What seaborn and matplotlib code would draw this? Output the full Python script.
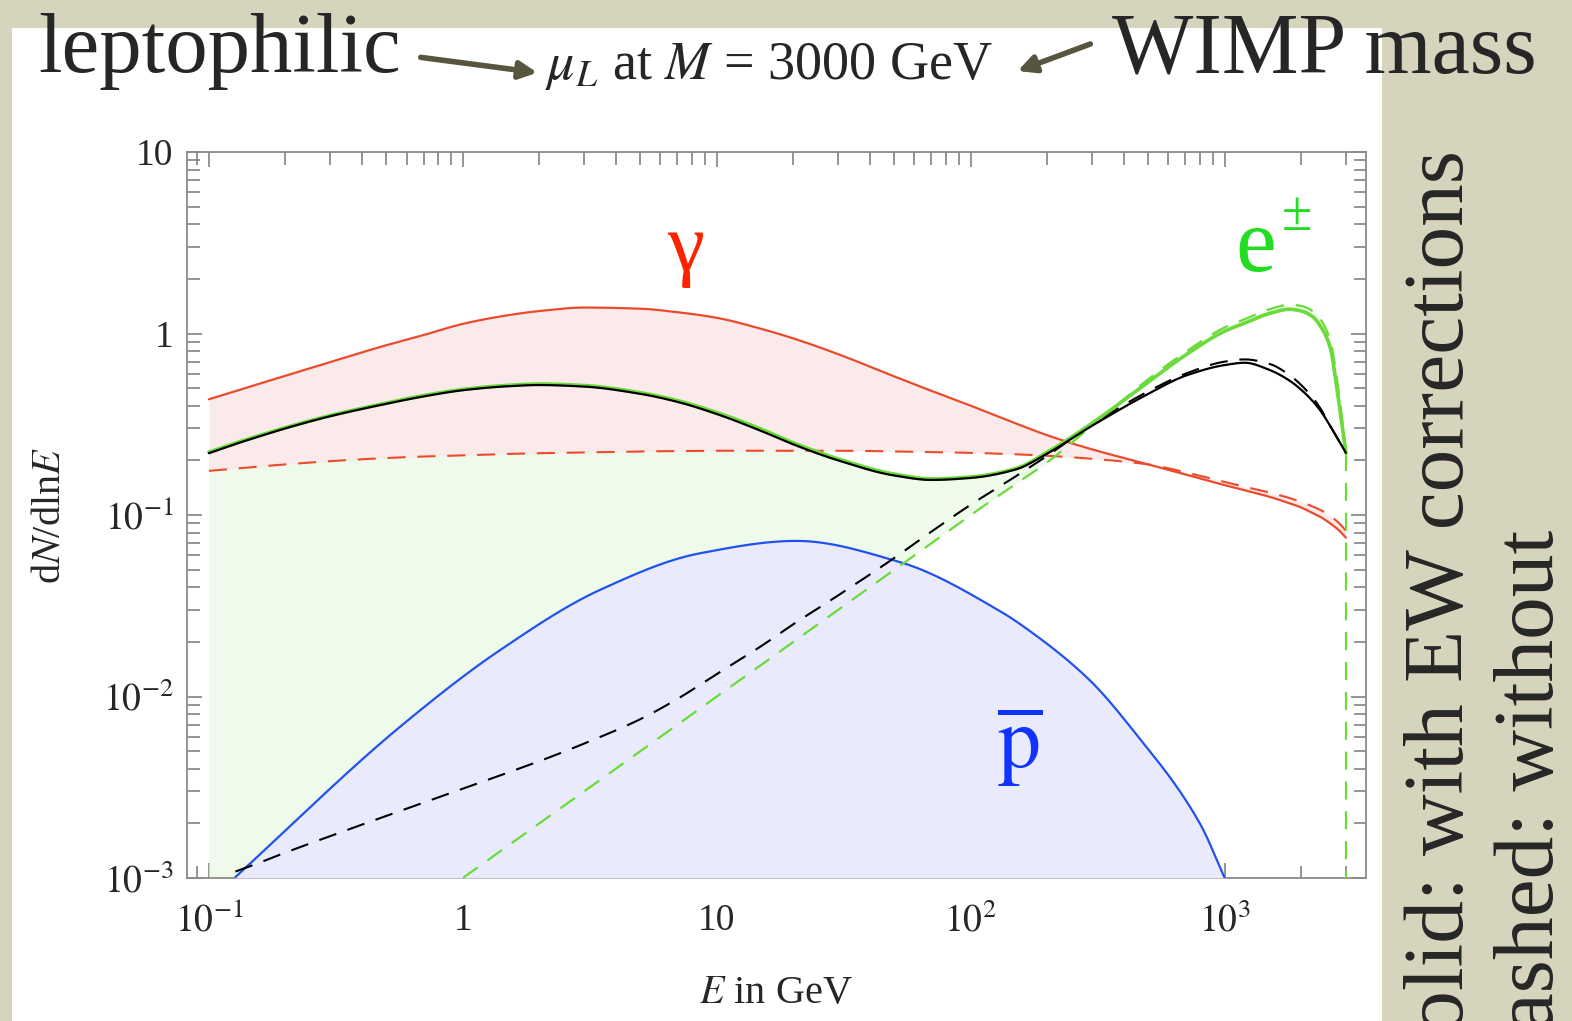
import numpy as np
import pandas as pd
import matplotlib
matplotlib.use("Agg")
import matplotlib.pyplot as plt
from matplotlib.patches import Rectangle, FancyArrowPatch
from matplotlib.ticker import LogLocator, NullFormatter, FixedLocator, FixedFormatter
import seaborn as sns

# Energy grid (GeV) for photon, neutrino and e+- spectra
energy = [0.1, 0.126, 0.15, 0.2, 0.3, 0.5, 0.7, 1, 1.5, 2, 3, 5, 7, 10, 15, 20, 30, 50, 70,
          100, 150, 200, 300, 500, 700, 1000, 1200, 1500, 1800, 2000, 2200, 2400, 2600, 2800, 3000]

nan = np.nan
# photons, with and without electroweak corrections
gamma_ew = [0.434, 0.479, 0.517, 0.585, 0.696, 0.862, 0.98, 1.13, 1.26, 1.33, 1.39, 1.37, 1.31, 1.22, 1.06, 0.94,
            0.77, 0.58, 0.483, 0.40, 0.32, 0.275, 0.23, 0.19, 0.167, 0.146, 0.137, 0.126, 0.116, 0.11, 0.103,
            0.097, 0.09, 0.083, 0.075]
gamma_noew = [0.175, 0.18, 0.184, 0.19, 0.198, 0.206, 0.21, 0.213, 0.217, 0.219, 0.221, 0.224, 0.225, 0.226,
              0.226, 0.226, 0.226, 0.224, 0.222, 0.22, 0.216, 0.212, 0.204, 0.19, 0.172, 0.152, 0.143, 0.133,
              0.124, 0.118, 0.112, 0.106, 0.099, 0.091, 0.082]
# neutrinos (black), with and without corrections
nu_ew = [0.219, 0.245, 0.265, 0.30, 0.35, 0.41, 0.45, 0.487, 0.512, 0.52, 0.51, 0.465, 0.42, 0.36, 0.29, 0.245,
         0.20, 0.165, 0.156, 0.16, 0.178, 0.218, 0.31, 0.465, 0.585, 0.67, 0.69, 0.63, 0.55, 0.49, 0.43, 0.37,
         0.31, 0.26, 0.22]
nu_noew = [nan, 0.00108, 0.00118, 0.00138, 0.0017, 0.0022, 0.0026, 0.0031, 0.0038, 0.0044, 0.0055, 0.0075,
           0.0097, 0.0133, 0.019, 0.025, 0.036, 0.058, 0.081, 0.114, 0.163, 0.212, 0.315, 0.48, 0.60, 0.70, 0.72,
           0.68, 0.59, 0.52, 0.45, 0.38, 0.31, 0.26, 0.22]
# electrons + positrons, with and without corrections
el_ew = [0.222, 0.248, 0.268, 0.303, 0.353, 0.414, 0.455, 0.492, 0.518, 0.527, 0.517, 0.472, 0.427, 0.367, 0.297,
         0.25, 0.204, 0.168, 0.158, 0.162, 0.18, 0.222, 0.32, 0.54, 0.76, 1.03, 1.14, 1.29, 1.36, 1.33, 1.25,
         1.08, 0.84, 0.44, 0.22]
el_noew = [nan, nan, nan, nan, nan, nan, nan, 0.001, 0.0015, 0.002, 0.003, 0.005, 0.007, 0.010, 0.015, 0.020,
           0.030, 0.050, 0.070, 0.10, 0.148, 0.195, 0.31, 0.56, 0.79, 1.08, 1.2, 1.36, 1.44, 1.42, 1.34, 1.18,
           0.92, 0.50, 0.22]
# cut-off of the e+- spectrum at E = M
el_noew_edge_E = [3000, 3000]
el_noew_edge_v = [0.22, 1e-4]
# antiprotons
pbar_E = [0.126, 0.565, 1.4, 3.46, 8.57, 20.6, 52.6, 130, 175, 294, 435, 798, 1000]
pbar_ew = [0.001, 0.0068, 0.018, 0.0386, 0.0615, 0.072, 0.055, 0.0296, 0.0224, 0.0123, 0.00653, 0.002, 0.001]

x_ticks = [0.1, 1, 10, 100, 1000]
x_ticklabels = [r"$10^{-1}$", "1", "10", r"$10^{2}$", r"$10^{3}$"]
y_ticks = [1e-3, 1e-2, 1e-1, 1, 10]
y_ticklabels = [r"$10^{-3}$", r"$10^{-2}$", r"$10^{-1}$", "1", "10"]

series = {"gamma_ew": (energy, gamma_ew), "gamma_noew": (energy, gamma_noew),
          "nu_ew": (energy, nu_ew), "nu_noew": (energy, nu_noew),
          "el_ew": (energy, el_ew), "el_noew": (energy, el_noew),
          "pbar": (pbar_E, pbar_ew)}


def pchip_loglog(x, y, xs):
    """Shape-preserving cubic through (x, y) in log-log space, evaluated at xs."""
    u, w, us = np.log10(x), np.log10(y), np.log10(xs)
    h = np.diff(u)
    d = np.diff(w) / h
    m = np.zeros_like(u)
    m[0], m[-1] = d[0], d[-1]
    for k in range(1, len(u) - 1):
        if d[k - 1] * d[k] > 0:
            w1, w2 = 2 * h[k] + h[k - 1], h[k] + 2 * h[k - 1]
            m[k] = (w1 + w2) / (w1 / d[k - 1] + w2 / d[k])
    idx = np.clip(np.searchsorted(u, us) - 1, 0, len(u) - 2)
    t = (us - u[idx]) / h[idx]
    h00, h10 = 2 * t**3 - 3 * t**2 + 1, t**3 - 2 * t**2 + t
    h01, h11 = -2 * t**3 + 3 * t**2, t**3 - t**2
    ws = h00 * w[idx] + h10 * h[idx] * m[idx] + h01 * w[idx + 1] + h11 * h[idx] * m[idx + 1]
    return 10 ** ws


# dense drawing grid; every curve passes through its tabulated values
E_draw = np.geomspace(energy[0], energy[-1], 900)
smooth = {"E": E_draw}
for name, (ex, vals) in series.items():
    sub = pd.DataFrame({"E": ex, "v": vals}).dropna()
    out = np.full(E_draw.shape, np.nan)
    inside = (E_draw >= sub["E"].iloc[0]) & (E_draw <= sub["E"].iloc[-1])
    out[inside] = pchip_loglog(sub["E"].values, sub["v"].values, E_draw[inside])
    smooth[name] = out
sm = pd.DataFrame(smooth)
edge = pd.DataFrame({"E": el_noew_edge_E, "el_noew": el_noew_edge_v})

sns.set_style("ticks")
plt.rcParams["font.family"] = ["Liberation Serif", "DejaVu Serif"]
plt.rcParams["mathtext.fontset"] = "stix"
plt.rcParams["lines.scale_dashes"] = False

BEIGE = "#D7D4BD"
RED = "#EC4A2C"
GREEN = "#6ADB3A"
BLUE = "#2152EE"
PINK_FILL = "#FBEAEA"
GREEN_FILL = "#EEFBEA"
BLUE_FILL = "#E9EAFB"
ARROW = "#57553F"
FRAME = "#8A8A8A"

W, H = 1572, 1021
fig = plt.figure(figsize=(W / 100, H / 100), dpi=100)
fig.patch.set_facecolor(BEIGE)


def fx(x):
    return x / W


def fy(y):
    return 1 - y / H


# white slide panel
fig.add_artist(Rectangle((fx(12), 0), fx(1382) - fx(12), fy(28), transform=fig.transFigure,
                         facecolor="white", edgecolor="none", zorder=-5))

ax = fig.add_axes([fx(187), fy(878), fx(1366) - fx(187), fy(152) - fy(878)])
ax.set_xscale("log")
ax.set_yscale("log")
ax.set_xlim(0.082, 3600)
ax.set_ylim(1e-3, 10)
ybot = ax.get_ylim()[0]

el_lo = np.where(np.isnan(sm["el_noew"]), ybot, sm["el_noew"])
pb = np.where(np.isnan(sm["pbar"]), ybot, sm["pbar"])
ax.fill_between(sm["E"], sm["el_ew"], el_lo, color=GREEN_FILL, lw=0, zorder=1)
ax.fill_between(sm["E"], sm["gamma_ew"], sm["gamma_noew"], color=PINK_FILL, lw=0, zorder=2)
ax.fill_between(sm["E"], pb, ybot, color=BLUE_FILL, lw=0, zorder=3)

dash = (0, (13, 8.5))
common = dict(ax=ax, estimator=None, sort=False, legend=False)
sns.lineplot(data=sm, x="E", y="gamma_noew", color=RED, lw=1.5, linestyle=dash, zorder=5, **common)
sns.lineplot(data=sm, x="E", y="gamma_ew", color=RED, lw=1.6, zorder=5, **common)
sns.lineplot(data=sm, x="E", y="pbar", color=BLUE, lw=1.6, zorder=5, **common)
sns.lineplot(data=sm, x="E", y="el_noew", color=GREEN, lw=1.6, linestyle=dash, zorder=6, **common)
sns.lineplot(data=edge, x="E", y="el_noew", color=GREEN, lw=1.6, linestyle=dash, zorder=6, **common)
sns.lineplot(data=sm, x="E", y="nu_noew", color="black", lw=1.5, linestyle=dash, zorder=6, **common)
sns.lineplot(data=sm, x="E", y="el_ew", color=GREEN, lw=2.6, zorder=7, **common)
sns.lineplot(data=sm, x="E", y="nu_ew", color="black", lw=1.6, zorder=8, **common)

# frame and ticks
ax.xaxis.set_major_locator(FixedLocator(x_ticks))
ax.xaxis.set_major_formatter(FixedFormatter(x_ticklabels))
ax.yaxis.set_major_locator(FixedLocator(y_ticks))
ax.yaxis.set_major_formatter(FixedFormatter(y_ticklabels))
ax.xaxis.set_minor_locator(LogLocator(base=10, subs=np.arange(2, 10), numticks=20))
ax.yaxis.set_minor_locator(LogLocator(base=10, subs=np.arange(2, 10), numticks=20))
ax.xaxis.set_minor_formatter(NullFormatter())
ax.yaxis.set_minor_formatter(NullFormatter())
ax.tick_params(which="both", direction="in", top=True, right=True, color="#777777", width=1.1)
ax.tick_params(which="major", length=11, labelsize=27)
ax.tick_params(which="minor", length=9)
ax.tick_params(axis="x", which="major", pad=18)
ax.tick_params(axis="y", which="major", pad=10)
for s in ax.spines.values():
    s.set_color(FRAME)
    s.set_linewidth(1.3)
ax.set_facecolor("white")
ax.set_xlabel("")
ax.set_ylabel("")

fig.text(fx(776), fy(993), r"$E$ in GeV", fontsize=29, ha="center", va="center")
fig.text(fx(50), fy(515), r"d$N$/dln$E$", fontsize=29, ha="center", va="center", rotation=90)

# curve labels
ax.text(fx(686), fy(270), "γ", transform=fig.transFigure, fontsize=60, color="#FF2200",
        ha="center", va="baseline", zorder=10)
ax.text(fx(1256), fy(271), "e", transform=fig.transFigure, fontsize=66,
        color="#22DD22", ha="center", va="baseline", zorder=10)
ax.text(fx(1297), fy(230), "±", transform=fig.transFigure, fontsize=40,
        color="#22DD22", ha="center", va="baseline", zorder=10)
ax.text(fx(1020), fy(768), r"$\overline{\mathrm{p}}$", transform=fig.transFigure, fontsize=62,
        color="#1133FF", ha="center", va="baseline", zorder=10)

# slide annotations
fig.text(fx(38), fy(72), "leptophilic", fontsize=61, ha="left", va="baseline")
fig.text(fx(1112), fy(72), "WIMP mass", fontsize=62, ha="left", va="baseline")
fig.text(fx(545), fy(79), r"$\mu_L$ at $M$ = 3000 GeV", fontsize=39, ha="left", va="baseline")
for (x0, y0), (x1, y1) in [((418, 57), (540, 73)), ((1093, 43), (1015, 72))]:
    fig.add_artist(FancyArrowPatch((fx(x0), fy(y0)), (fx(x1), fy(y1)), transform=fig.transFigure,
                                   arrowstyle="-|>", mutation_scale=26, lw=4, color=ARROW))

fig.text(fx(1442), fy(150), "solid: with EW corrections", fontsize=61.5, rotation=90,
         ha="center", va="top")
fig.text(fx(1533), fy(530), "dashed: without", fontsize=61.5, rotation=90, ha="center", va="top")

fig.savefig("out.png", dpi=100, facecolor=fig.get_facecolor())
